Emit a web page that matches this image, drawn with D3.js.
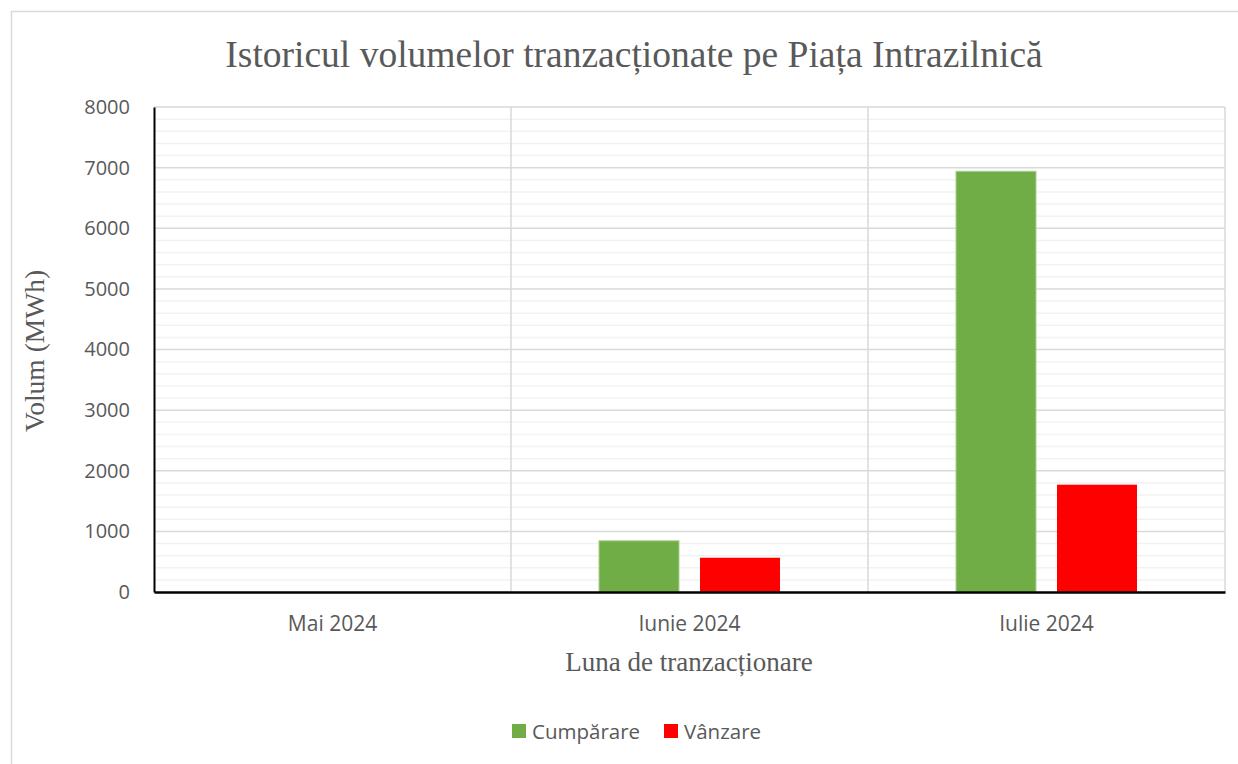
<!DOCTYPE html>
<html>
<head>
<meta charset="utf-8">
<script src="https://cdn.jsdelivr.net/npm/d3@7"></script>
<style>
  body { margin: 0; background: #fff; }
  svg { display: block; }
</style>
</head>
<body>
<svg></svg>
<script>
let width = 1238, height = 764;

// data
const months = ["Mai 2024", "Iunie 2024", "Iulie 2024"];
const seriesNames = ["Cumpărare", "Vânzare"];
const cumparare = [0, 845, 6940];
const vanzare = [0, 565, 1770];
const yTicks = [0, 1000, 2000, 3000, 4000, 5000, 6000, 7000, 8000];

const colors = { "Cumpărare": "#70ad47", "Vânzare": "#ff0000" };

let svg = d3.select("svg")
    .attr("width", width)
    .attr("height", height);

// outer chart border
svg.append("rect")
    .attr("x", 11.5).attr("y", 11.5)
    .attr("width", width + 10).attr("height", height + 10)
    .attr("fill", "#fff")
    .attr("stroke", "#d9d9d9")
    .attr("stroke-width", 1.5);

let plot = { left: 154, right: 1225, top: 107, bottom: 592 };

let x0 = d3.scaleBand()
    .domain(months)
    .range([plot.left, plot.right])
    .padding(0);

let x1 = d3.scaleBand()
    .domain(seriesNames)
    .range([88, x0.bandwidth() - 88])
    .paddingInner(0.208);

let y = d3.scaleLinear()
    .domain([0, 8000])
    .range([plot.bottom, plot.top]);

// minor gridlines
let minor = d3.range(200, 8000, 200).filter(v => v % 1000 !== 0);
svg.append("g")
    .selectAll("line")
    .data(minor)
    .enter()
    .append("line")
    .attr("x1", plot.left).attr("x2", plot.right)
    .attr("y1", d => y(d)).attr("y2", d => y(d))
    .attr("stroke", "#f2f2f2")
    .attr("stroke-width", 1.5);

// major gridlines
svg.append("g")
    .selectAll("line")
    .data(yTicks.filter(d => d > 0))
    .enter()
    .append("line")
    .attr("x1", plot.left).attr("x2", plot.right)
    .attr("y1", d => y(d)).attr("y2", d => y(d))
    .attr("stroke", "#d9d9d9")
    .attr("stroke-width", 1.5);

// vertical category separators
svg.append("g")
    .selectAll("line")
    .data(months.slice(1).map(m => x0(m)).concat([plot.right]))
    .enter()
    .append("line")
    .attr("x1", d => d).attr("x2", d => d)
    .attr("y1", plot.top).attr("y2", plot.bottom)
    .attr("stroke", "#d9d9d9")
    .attr("stroke-width", 1.5);

// bars
let rows = months.map((m, i) => ({ month: m, values: [
    { key: "Cumpărare", value: cumparare[i] },
    { key: "Vânzare", value: vanzare[i] }
] }));

svg.append("g")
    .selectAll("g")
    .data(rows)
    .enter()
    .append("g")
    .attr("transform", d => "translate(" + x0(d.month) + ",0)")
    .selectAll("rect")
    .data(d => d.values.filter(v => v.value > 0))
    .enter()
    .append("rect")
    .attr("x", d => x1(d.key))
    .attr("width", x1.bandwidth())
    .attr("y", d => y(d.value))
    .attr("height", d => y(0) - y(d.value))
    .attr("fill", d => colors[d.key])
    .attr("stroke", d => d.key === "Cumpărare" ? "#a9d18e" : "none")
    .attr("stroke-width", 1);

// axes
let yAxis = svg.append("g")
    .attr("transform", "translate(" + plot.left + ",0)")
    .call(d3.axisLeft(y).tickValues(yTicks).tickFormat(d3.format("d")).tickSize(0).tickPadding(24));
yAxis.select(".domain").attr("stroke", "#000").attr("stroke-width", 2);
yAxis.selectAll("text")
    .attr("font-family", "'Open Sans', sans-serif")
    .attr("font-size", "20px")
    .attr("fill", "#595959");

let xAxis = svg.append("g")
    .attr("transform", "translate(0," + plot.bottom + ")")
    .call(d3.axisBottom(x0).tickSize(0).tickPadding(24));
xAxis.select(".domain").attr("stroke", "#000").attr("stroke-width", 2.5);
xAxis.selectAll("text")
    .attr("font-family", "'Open Sans', sans-serif")
    .attr("font-size", "21px")
    .attr("fill", "#595959");

// title
svg.append("text")
    .attr("x", 634).attr("y", 67)
    .attr("text-anchor", "middle")
    .attr("font-family", "'Liberation Serif', 'Times New Roman', serif")
    .attr("font-size", "37.5px")
    .attr("fill", "#595959")
    .text("Istoricul volumelor tranzacționate pe Piața Intrazilnică");

// axis titles
svg.append("text")
    .attr("transform", "translate(44,351) rotate(-90)")
    .attr("text-anchor", "middle")
    .attr("font-family", "'Liberation Serif', 'Times New Roman', serif")
    .attr("font-size", "27.5px")
    .attr("fill", "#595959")
    .text("Volum (MWh)");

svg.append("text")
    .attr("x", 689).attr("y", 671)
    .attr("text-anchor", "middle")
    .attr("font-family", "'Liberation Serif', 'Times New Roman', serif")
    .attr("font-size", "27px")
    .attr("fill", "#595959")
    .text("Luna de tranzacționare");

// legend
let legend = svg.append("g").attr("transform", "translate(512,724)");
let legendX = [0, 152];
seriesNames.forEach((name, i) => {
    let g = legend.append("g").attr("transform", "translate(" + legendX[i] + ",0)");
    g.append("rect")
        .attr("width", 14).attr("height", 14)
        .attr("fill", colors[name]);
    g.append("text")
        .attr("x", 20).attr("y", 14.5)
        .attr("font-family", "'Open Sans', sans-serif")
        .attr("font-size", "20.5px")
        .attr("fill", "#595959")
        .text(name);
});
</script>
</body>
</html>
